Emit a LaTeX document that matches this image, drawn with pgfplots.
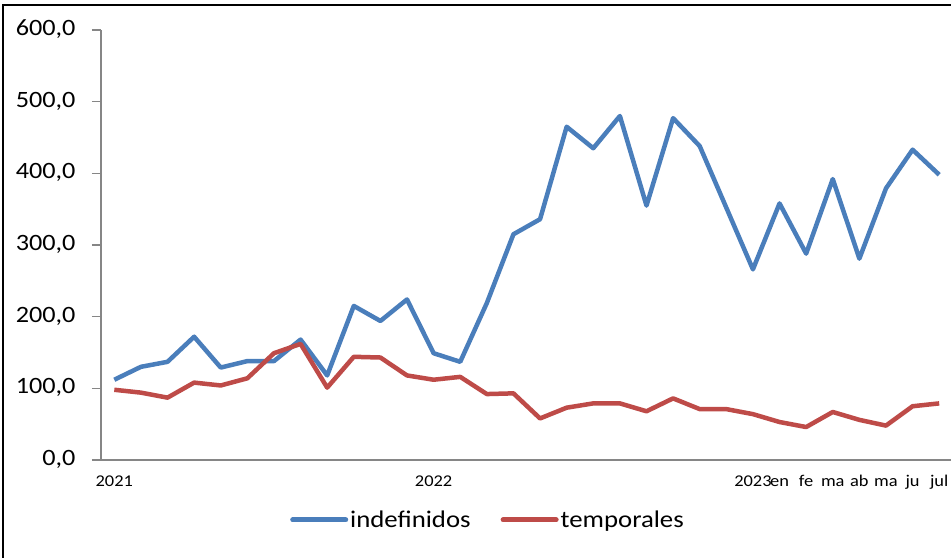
\documentclass[border=0pt]{standalone}
\usepackage{pgfplots}
\pgfplotsset{compat=1.18}
\usepackage{fontspec}
\setmainfont{Carlito}[FakeStretch=1.12]
\definecolor{cblue}{HTML}{4A7EBB}
\definecolor{cred}{HTML}{BE4B48}
\definecolor{caxis}{HTML}{868686}
\begin{document}
\begin{tikzpicture}
\path[use as bounding box] (-101bp,-98bp) rectangle (850bp,460bp);
\begin{axis}[
  scale only axis,
  width=851.5bp, height=430bp,
  xmin=-0.5, xmax=31.5,
  ymin=0, ymax=600,
  axis x line=bottom, axis y line=left,
  axis line style={caxis, line width=1.5bp, -},
  ytick={0,100,...,600},
  y tick style={caxis, line width=1.5bp},
  tick align=outside,
  major tick length=9bp,
  yticklabel style={font=\fontsize{23.5}{28}\selectfont, xshift=-13bp},
  /pgf/number format/.cd, fixed, fixed zerofill, precision=1, use comma, assume math mode=true,
  /pgfplots/.cd,
  xtick={0,12,24,25,26,27,28,29,30,31},
  xticklabels={2021,2022,2023,en,fe,ma,ab,ma,ju,jul},
  x tick style={draw=none},
  typeset ticklabels with strut,
  xticklabel style={font=\fontsize{16.5}{19}\selectfont, yshift=-1bp},
  minor xtick={-0.5,0.5,...,31.5},
  minor x tick style={caxis, line width=1.5bp},
  minor tick length=6bp,
  legend columns=2,
  legend style={draw=none, at={(0.4545,-0.1395)}, anchor=center,
    font=\fontsize{24}{28}\selectfont,
    /tikz/every even column/.append style={column sep=28bp},
    /tikz/every odd column/.append style={column sep=0bp},
    nodes={inner sep=2bp}},
  legend image code/.code={\draw[#1, line width=5bp, line cap=round] (0bp,0bp) -- (53bp,0bp);},
  every axis plot/.append style={line width=4.5bp, line join=round, mark=none},
]
\addplot[cblue] coordinates {
(0,112)(1,130)(2,137)(3,172)(4,129)(5,138)(6,138)(7,168)(8,118)(9,215)(10,194)(11,224)
(12,149)(13,137)(14,219)(15,315)(16,336)(17,465)(18,435)(19,480)(20,355)(21,477)(22,438)(23,352)
(24,266)(25,358)(26,288)(27,392)(28,281)(29,379)(30,433)(31,398)};
\addlegendentry{indefinidos}
\addplot[cred] coordinates {
(0,98)(1,94)(2,87)(3,108)(4,104)(5,114)(6,149)(7,162)(8,101)(9,144)(10,143)(11,118)
(12,112)(13,116)(14,92)(15,93)(16,58)(17,73)(18,79)(19,79)(20,68)(21,86)(22,71)(23,71)
(24,64)(25,53)(26,46)(27,67)(28,56)(29,48)(30,75)(31,79)};
\addlegendentry{temporales}
\end{axis}
\draw[line width=2bp] (-98bp,-110bp) -- (-98bp,455bp) -- (860bp,455bp);
\end{tikzpicture}
\end{document}
